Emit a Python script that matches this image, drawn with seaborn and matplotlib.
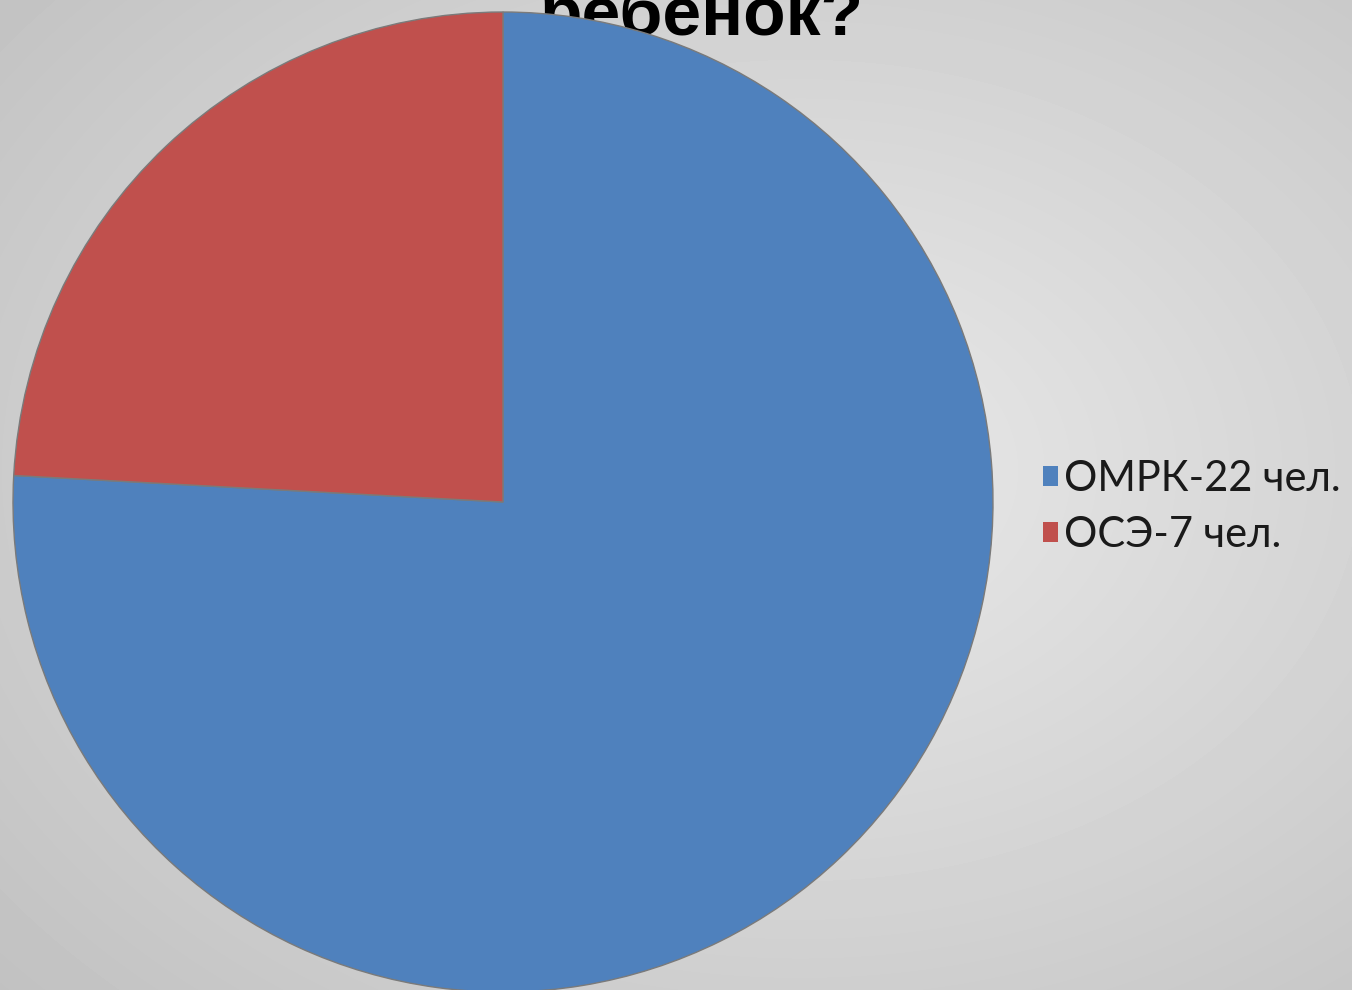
import matplotlib.pyplot as plt
import seaborn as sns
import numpy as np

# данные
labels = ["ОМРК-22 чел.", "ОСЭ-7 чел."]
counts = [22, 7]
colors = ["#4F81BD", "#C0504D"]
title_tail = "ребенок?"

sns.set_theme(style="white")
plt.rcParams['font.family'] = ['Liberation Sans', 'DejaVu Sans']

fig = plt.figure(figsize=(13.52, 9.9), dpi=100)

# фон - радиальный градиент
bg = fig.add_axes([0, 0, 1, 1], zorder=-2)
yy, xx = np.mgrid[0:990, 0:1352]
r = np.sqrt(((xx - 800) / 1352) ** 2 + ((yy - 470) / 990) ** 2)
shade = 0.915 - 0.2 * r
bg.imshow(shade, cmap="gray", vmin=0, vmax=1, aspect="auto", interpolation="bilinear")
bg.axis("off")

# заголовок (обрезан сверху, частично под диаграммой)
fig.text(701 / 1352, 1 - 35 / 990, title_tail, ha="center", va="baseline",
         fontsize=50, fontweight="bold", color="black", zorder=-1)

ax = fig.add_axes([13 / 1352, -2 / 990, 980 / 1352, 980 / 990], zorder=0)
wedges, _ = ax.pie(counts, colors=sns.color_palette(colors), startangle=90,
                   counterclock=False, radius=1.0,
                   wedgeprops=dict(edgecolor="#7a7a7a", linewidth=1.0))
ax.set_xlim(-1.0, 1.0)
ax.set_ylim(-1.0, 1.0)
ax.set_aspect("equal")
ax.axis("off")

leg = fig.legend(wedges, labels, loc="center left",
                 bbox_to_anchor=(1043 / 1352, 1 - 507 / 990),
                 frameon=False, fontsize=30, handlelength=0.35, handleheight=0.35,
                 handletextpad=0.15, labelspacing=0.42, borderaxespad=0,
                 borderpad=0)
for t in leg.get_texts():
    t.set_family(["Lato", "DejaVu Sans"])
    t.set_color("#1a1a1a")
for h in leg.legend_handles:
    h.set_edgecolor("none")

fig.savefig("out.png", dpi=100)
